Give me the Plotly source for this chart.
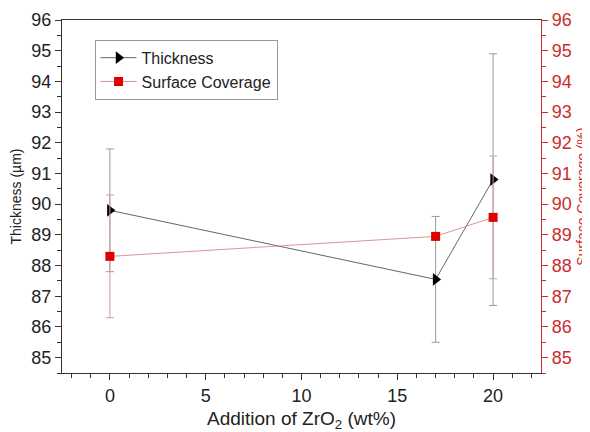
import plotly.graph_objects as go

zro2_wt = [0, 17, 20]
thickness = [89.8, 87.55, 90.8]
thickness_err = [2.0, 2.05, 4.1]
coverage = [88.3, 88.95, 89.57]
coverage_err = [2.0, 0.1, 2.0]

RED = "#cc2b2b"
FONT = "Liberation Sans, Arial, sans-serif"

fig = go.Figure()
fig.add_trace(go.Scatter(
    x=zro2_wt, y=thickness, name="Thickness", mode="lines+markers",
    line=dict(color="#555555", width=0.9),
    marker=dict(symbol="triangle-right", size=11, color="black"),
    error_y=dict(type="data", array=thickness_err, visible=True,
                 color="#9a9a9a", thickness=1, width=4),
    yaxis="y",
))
fig.add_trace(go.Scatter(
    x=zro2_wt, y=coverage, name="Surface Coverage", mode="lines+markers",
    line=dict(color="#d68a8a", width=0.9),
    marker=dict(symbol="square", size=9, color="#e00000"),
    error_y=dict(type="data", array=coverage_err, visible=True,
                 color="#c8a0a0", thickness=1, width=4),
    yaxis="y2",
))

axis_common = dict(showgrid=False, zeroline=False, ticks="outside",
                   ticklen=6, tickwidth=1.2, linewidth=1.3, showline=True,
                   automargin=False)

# page body has an 8px margin, so the figure is drawn at (8, 8)
fig.update_layout(
    width=582, height=424,
    margin=dict(l=54, r=49, t=12, b=59),
    paper_bgcolor="white", plot_bgcolor="white",
    font=dict(family=FONT, size=16, color="#222222"),
    showlegend=True,
    legend=dict(x=0.068, y=0.944, xanchor="left", yanchor="top",
                bordercolor="#999999", borderwidth=1, bgcolor="white",
                font=dict(size=16, color="#222222"),
                tracegroupgap=0, itemwidth=36),
    xaxis=dict(range=[-2.5, 22.5], tickvals=[0, 5, 10, 15, 20],
               linecolor="#333333", tickcolor="#333333", mirror=True,
               tickfont=dict(size=18),
               minor=dict(dtick=1, ticks="outside", ticklen=4, tickcolor="#333333"),
               title=dict(text="Addition of ZrO<sub>2</sub> (wt%)",
                          font=dict(size=19)),
               **axis_common),
    yaxis=dict(range=[84.5, 96], dtick=1,
               linecolor="#333333", tickcolor="#333333",
               tickfont=dict(size=18),
               minor=dict(dtick=0.5, ticks="outside", ticklen=4, tickcolor="#333333"),
               title=dict(text="Thickness (µm)", font=dict(size=14)),
               **axis_common),
    yaxis2=dict(range=[84.5, 96], dtick=1, overlaying="y", side="right",
                linecolor=RED, tickcolor=RED,
                tickfont=dict(size=18, color=RED),
                minor=dict(dtick=0.5, ticks="outside", ticklen=4, tickcolor=RED),
                title=dict(text="Surface Coverage (%)", font=dict(size=14, color=RED)),
                **axis_common),
)

fig.write_html("out.html")
